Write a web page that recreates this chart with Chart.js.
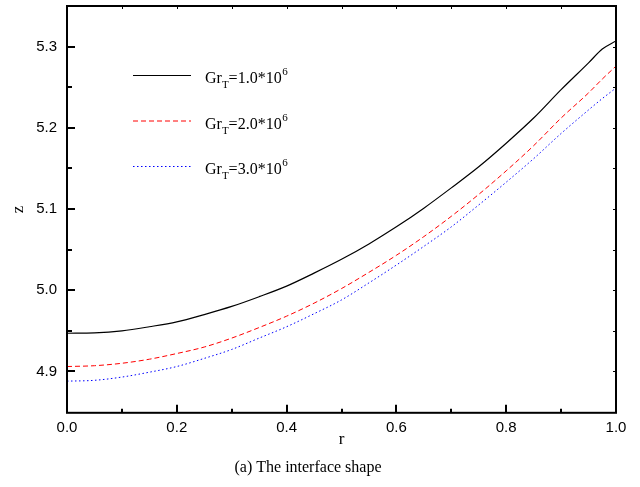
<!DOCTYPE html>
<html>
<head>
<meta charset="utf-8">
<script src="https://cdn.jsdelivr.net/npm/chart.js@4.4.1/dist/chart.umd.min.js"></script>
<style>
  html, body { margin: 0; padding: 0; background: #fff; }
  #wrap { width: 640px; height: 487px; }
</style>
</head>
<body>
<div id="wrap"><canvas id="shape"></canvas></div>
<script>
const rValues = [0, 0.05, 0.1, 0.15, 0.2, 0.25, 0.3, 0.35, 0.4, 0.45, 0.5, 0.55, 0.6, 0.65, 0.7, 0.75, 0.8, 0.85, 0.9, 0.95, 0.975, 1.0];
const zGr1 = [4.947, 4.9475, 4.950, 4.955, 4.961, 4.970, 4.980, 4.992, 5.005, 5.021, 5.038, 5.057, 5.078, 5.101, 5.126, 5.152, 5.181, 5.212, 5.247, 5.280, 5.297, 5.307];
const zGr2 = [4.906, 4.907, 4.910, 4.915, 4.922, 4.930, 4.941, 4.954, 4.968, 4.984, 5.002, 5.022, 5.043, 5.066, 5.091, 5.118, 5.147, 5.178, 5.212, 5.243, 5.260, 5.276];
const zGr3 = [4.888, 4.889, 4.893, 4.899, 4.906, 4.916, 4.927, 4.941, 4.955, 4.971, 4.988, 5.009, 5.031, 5.054, 5.078, 5.105, 5.133, 5.162, 5.193, 5.222, 5.236, 5.249];
const grLabels = ['1.0', '2.0', '3.0'];
const xTicks = [0, 0.2, 0.4, 0.6, 0.8, 1.0];
const xMinor = [0.1, 0.3, 0.5, 0.7, 0.9];
const yTicks = [4.9, 5.0, 5.1, 5.2, 5.3];
const yMinor = [4.95, 5.05, 5.15, 5.25];

const serif = "'Liberation Serif', 'Times New Roman', serif";
const sans = "'Liberation Sans', Arial, sans-serif";

function pts(zs) {
  return rValues.map((r, i) => ({ x: r, y: zs[i] }));
}

// frame, inward ticks and the hand-made legend (Gr with subscript T)
const framePlugin = {
  id: 'frame',
  afterDatasetsDraw(chart) {
    const { ctx, chartArea: a, scales: { x, y } } = chart;
    ctx.save();
    ctx.strokeStyle = '#000';
    ctx.lineWidth = 2;
    ctx.beginPath();
    xTicks.forEach(v => {
      const px = Math.round(x.getPixelForValue(v));
      ctx.moveTo(px, a.bottom); ctx.lineTo(px, a.bottom - 8);
    });
    xMinor.forEach(v => {
      const px = Math.round(x.getPixelForValue(v));
      ctx.moveTo(px, a.bottom); ctx.lineTo(px, a.bottom - 4);
    });
    yTicks.forEach(v => {
      const py = Math.round(y.getPixelForValue(v));
      ctx.moveTo(a.left, py); ctx.lineTo(a.left + 8, py);
    });
    yMinor.forEach(v => {
      const py = Math.round(y.getPixelForValue(v));
      ctx.moveTo(a.left, py); ctx.lineTo(a.left + 5, py);
    });
    ctx.stroke();
    // small mirrored ticks on top and right
    ctx.lineWidth = 1;
    ctx.beginPath();
    xTicks.concat(xMinor).forEach(v => {
      const px = Math.round(x.getPixelForValue(v)) + 0.5;
      ctx.moveTo(px, a.top); ctx.lineTo(px, a.top + 3);
    });
    yTicks.concat(yMinor).forEach(v => {
      const py = Math.round(y.getPixelForValue(v)) + 0.5;
      ctx.moveTo(a.right, py); ctx.lineTo(a.right - 3, py);
    });
    ctx.stroke();
    ctx.lineWidth = 2;
    ctx.strokeRect(a.left, a.top, a.right - a.left, a.bottom - a.top);

    // legend
    chart.data.datasets.forEach((ds, i) => {
      const ly = 75 + i * 45.5;
      ctx.lineWidth = 1;
      ctx.strokeStyle = ds.borderColor;
      ctx.setLineDash(ds.borderDash || []);
      ctx.beginPath();
      ctx.moveTo(133, ly + 0.5);
      ctx.lineTo(191, ly + 0.5);
      ctx.stroke();
      ctx.setLineDash([]);
      ctx.fillStyle = '#000';
      ctx.textBaseline = 'alphabetic';
      const base = ly + 8;
      let tx = 205;
      ctx.font = '16px ' + serif;
      ctx.fillText('Gr', tx, base);
      tx += ctx.measureText('Gr').width;
      ctx.font = '11px ' + serif;
      ctx.fillText('T', tx, base + 5);
      tx += ctx.measureText('T').width;
      ctx.font = '16px ' + serif;
      const mid = '=' + grLabels[i] + '*10';
      ctx.fillText(mid, tx, base);
      tx += ctx.measureText(mid).width;
      ctx.font = '11px ' + serif;
      ctx.fillText('6', tx + 0.5, base - 8);
    });
    ctx.restore();
  }
};

new Chart(document.getElementById('shape'), {
  type: 'line',
  data: {
    datasets: [
      { label: 'GrT=1.0*10^6', data: pts(zGr1), borderColor: '#000000', borderWidth: 1.2 },
      { label: 'GrT=2.0*10^6', data: pts(zGr2), borderColor: '#ff0000', borderWidth: 1, borderDash: [5, 3] },
      { label: 'GrT=3.0*10^6', data: pts(zGr3), borderColor: '#0000ff', borderWidth: 1, borderDash: [1.5, 2.5] }
    ]
  },
  options: {
    responsive: true,
    maintainAspectRatio: false,
    animation: false,
    devicePixelRatio: 1,
    layout: { padding: { top: 6, right: 24, left: 0, bottom: 0 } },
    elements: { point: { radius: 0 }, line: { cubicInterpolationMode: 'monotone' } },
    plugins: {
      legend: { display: false },
      tooltip: { enabled: false },
      title: {
        display: true,
        position: 'bottom',
        text: '(a) The interface shape',
        color: '#000',
        font: { family: serif, size: 16, weight: 'normal' },
        padding: { top: 4, bottom: 10 }
      }
    },
    scales: {
      x: {
        type: 'linear',
        min: 0, max: 1,
        afterFit: s => { s.height = 41; s.paddingLeft = 0; s.paddingRight = 0; },
        afterBuildTicks: s => { s.ticks = xTicks.map(v => ({ value: v })); },
        grid: { display: false, drawTicks: false },
        border: { display: false },
        ticks: {
          color: '#000', padding: 6,
          font: { family: sans, size: 15 },
          maxRotation: 0,
          callback: v => v.toFixed(1)
        },
        title: { display: true, text: 'r', color: '#000', font: { family: serif, size: 17 }, padding: { top: 0, bottom: 4 } }
      },
      y: {
        type: 'linear',
        min: 4.849, max: 5.35,
        afterFit: s => { s.width = 67; s.paddingTop = 0; s.paddingBottom = 0; },
        afterBuildTicks: s => { s.ticks = yTicks.map(v => ({ value: v })); },
        grid: { display: false, drawTicks: false },
        border: { display: false },
        ticks: {
          color: '#000', padding: 10,
          font: { family: sans, size: 15 },
          callback: v => v.toFixed(1)
        },
        title: { display: true, text: 'z', color: '#000', font: { family: serif, size: 17 }, padding: { top: 8, bottom: 0 } }
      }
    }
  },
  plugins: [framePlugin]
});
</script>
</body>
</html>
